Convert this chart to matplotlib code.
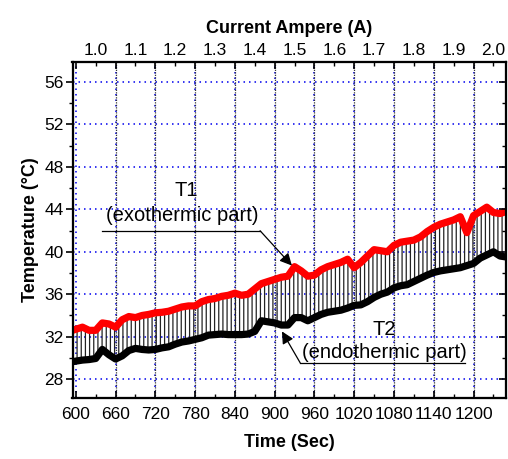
import matplotlib
matplotlib.use("Agg")
import matplotlib.pyplot as plt
from matplotlib.ticker import FixedLocator, FixedFormatter, NullFormatter

# ---------------- data ----------------
time_s = list(range(590, 1251, 10))
t1_exo = [32.5, 32.7, 32.9, 32.6, 32.6, 33.3, 33.2, 32.9, 33.6, 33.9,
          33.8, 34.0, 34.1, 34.25, 34.3, 34.4, 34.6, 34.8, 34.9, 34.9,
          35.3, 35.5, 35.6, 35.8, 35.9, 36.1, 35.9, 36.0, 36.5, 37.0,
          37.2, 37.4, 37.6, 37.7, 38.6, 38.2, 37.7, 37.8, 38.3, 38.6,
          38.8, 39.0, 39.3, 38.5, 39.0, 39.6, 40.2, 40.1, 40.0, 40.6,
          40.9, 41.0, 41.1, 41.4, 41.9, 42.3, 42.6, 42.8, 43.0, 43.3,
          41.8, 43.4, 43.8, 44.2, 43.7, 43.6, 43.8]
t2_endo = [29.6, 29.7, 29.8, 29.85, 29.95, 30.8, 30.3, 29.9, 30.2, 30.7,
           30.9, 30.8, 30.75, 30.8, 30.95, 31.05, 31.3, 31.5, 31.6, 31.75,
           31.9, 32.15, 32.2, 32.25, 32.2, 32.2, 32.2, 32.25, 32.5, 33.5,
           33.4, 33.3, 33.1, 33.1, 33.8, 33.8, 33.5, 33.8, 34.1, 34.3,
           34.4, 34.5, 34.7, 34.95, 35.0, 35.3, 35.7, 36.0, 36.2, 36.6,
           36.8, 36.9, 37.2, 37.5, 37.8, 38.05, 38.2, 38.3, 38.4, 38.5,
           38.7, 38.9, 39.4, 39.7, 40.0, 39.6, 39.5]

x_major = list(range(600, 1201, 60))
x_minor = list(range(630, 1231, 60))
y_major = list(range(28, 57, 4))
y_minor = list(range(30, 55, 4))
top_major = list(range(600, 1241, 60))
current_pos = list(range(630, 1231, 60))
current_labels = ['1.0', '1.1', '1.2', '1.3', '1.4', '1.5', '1.6', '1.7', '1.8', '1.9', '2.0']
black_grid = list(range(660, 1201, 60))

# ---------------- figure ----------------
plt.rcParams['font.family'] = ['Liberation Sans', 'DejaVu Sans']
plt.rcParams['hatch.linewidth'] = 0.9

fig = plt.figure(figsize=(5.08, 4.59), dpi=100)
ax = fig.add_axes([72.5 / 508, 1 - 398.3 / 459, (506 - 72.5) / 508, (398.3 - 61.7) / 459])

XLIM = (595, 1249)
YLIM = (26.2, 57.9)

# grid
for y in y_major:
    ax.axhline(y, color='#0000ee', lw=1.1, ls=(0, (1, 2.6)), zorder=0.5)
for x in x_major:
    ax.axvline(x, color='#0000ee', lw=1.1, ls=(0, (1, 2.6)), zorder=0.5)
for x in black_grid:
    ax.axvline(x, color='#333333', lw=0.9, ls=(0, (1, 1)), zorder=0.6)

# hatched region between curves
ax.fill_between(time_s, t2_endo, t1_exo, facecolor='none', edgecolor='#222222',
                hatch='||||', linewidth=0, zorder=2)
ax.plot(time_s, t1_exo, color='#ff0000', lw=5.2, zorder=3)
ax.plot(time_s, t2_endo, color='black', lw=5.2, zorder=3)

ax.set_xlim(*XLIM)
ax.set_ylim(*YLIM)

ax.xaxis.set_major_locator(FixedLocator(x_major))
ax.xaxis.set_minor_locator(FixedLocator(x_minor))
ax.yaxis.set_major_locator(FixedLocator(y_major))
ax.yaxis.set_minor_locator(FixedLocator(y_minor))
ax.tick_params(axis='x', which='major', direction='in', length=5, width=1.2,
               labelsize=12.5, pad=6)
ax.tick_params(axis='x', which='minor', direction='in', length=3, width=1.0)
ax.tick_params(axis='y', which='major', direction='out', length=5, width=1.2,
               labelsize=12.5, pad=1.5)
ax.tick_params(axis='y', which='minor', direction='out', length=3, width=1.0)

for s in ax.spines.values():
    s.set_linewidth(1.5)

ax.set_xlabel('Time (Sec)', fontsize=13, fontweight='bold', labelpad=9)
ax.set_ylabel('Temperature (°C)', fontsize=13, fontweight='bold', labelpad=4)

# right ticks
axr = ax.twinx()
axr.set_ylim(*YLIM)
axr.yaxis.set_major_locator(FixedLocator(y_major))
axr.yaxis.set_minor_locator(FixedLocator(y_minor))
axr.tick_params(axis='y', which='major', direction='in', length=5, width=1.2, labelright=False)
axr.tick_params(axis='y', which='minor', direction='in', length=3, width=1.0)

# top axis (current)
axt = ax.twiny()
axt.set_xlim(*XLIM)
axt.xaxis.set_major_locator(FixedLocator(top_major))
axt.xaxis.set_major_formatter(NullFormatter())
axt.xaxis.set_minor_locator(FixedLocator(current_pos))
axt.xaxis.set_minor_formatter(FixedFormatter(current_labels))
axt.tick_params(axis='x', which='major', direction='in', length=5, width=1.2)
axt.tick_params(axis='x', which='minor', direction='in', length=3, width=1.0,
                labelsize=12.5, pad=3)
axt.set_xlabel('Current Ampere (A)', fontsize=13, fontweight='bold', labelpad=7)
for a in (axr, axt):
    for s in a.spines.values():
        s.set_linewidth(1.5)

# annotations
ax.text(767, 45.77, 'T1', fontsize=14.5, ha='center', va='center', zorder=5)
ax.text(760, 43.46, '(exothermic part)', fontsize=14.5, ha='center', va='center', zorder=5)
ax.plot([639, 878], [41.98, 41.98], color='black', lw=0.9, zorder=5)
ax.annotate('', xy=(926, 38.7), xytext=(878, 41.98),
            arrowprops=dict(arrowstyle='-|>', color='black', lw=0.9,
                            mutation_scale=18, shrinkA=0, shrinkB=0), zorder=5)

ax.text(1065, 32.7, 'T2', fontsize=14.5, ha='center', va='center', zorder=5)
ax.text(1066, 30.5, '(endothermic part)', fontsize=14.5, ha='center', va='center', zorder=5)
ax.plot([938.5, 1187.6], [29.54, 29.54], color='black', lw=0.9, zorder=5)
ax.annotate('', xy=(911, 32.5), xytext=(938.5, 29.54),
            arrowprops=dict(arrowstyle='-|>', color='black', lw=0.9,
                            mutation_scale=18, shrinkA=0, shrinkB=0), zorder=5)

fig.savefig('out.png', dpi=100)
